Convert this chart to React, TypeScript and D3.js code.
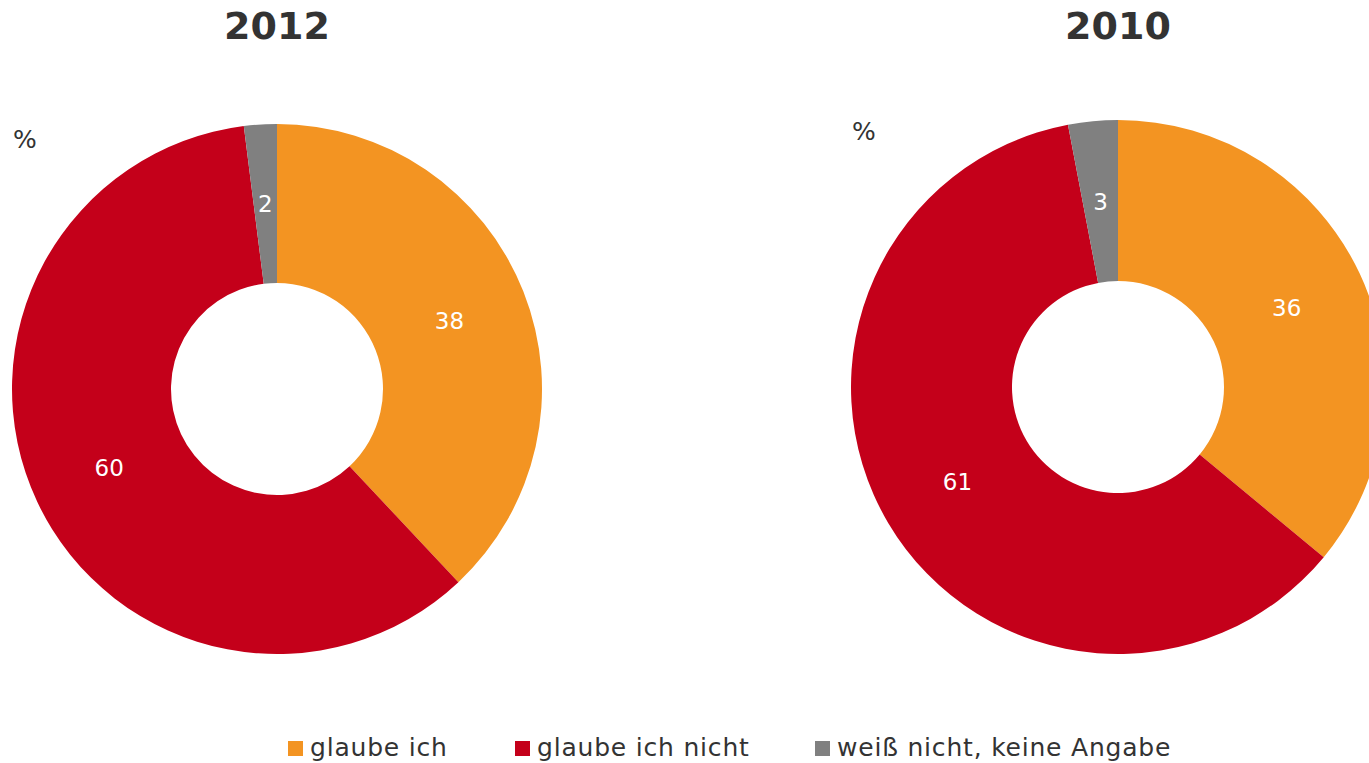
import React, { useEffect, useRef } from "react";
import * as d3 from "d3";

const categories = ["glaube ich", "glaube ich nicht", "weiß nicht, keine Angabe"];
const colors = ["#F39422", "#C4001A", "#808080"];
const years = ["2012", "2010"];
const values2012 = [38, 60, 2];
const values2010 = [36, 61, 3];

const W = 1369;
const H = 763;

export default function App() {
  const ref = useRef<SVGSVGElement>(null);
  useEffect(() => {
    const svg = d3.select(ref.current);
    svg.selectAll("*").remove();
    const font = "'DejaVu Sans', Verdana, sans-serif";
    const charts = [
      { year: years[0], values: values2012, cx: 277, cy: 389, r: 265, ri: 106, pctX: 13, pctY: 148 },
      { year: years[1], values: values2010, cx: 1118, cy: 387, r: 267, ri: 106, pctX: 852, pctY: 140 },
    ];
    const pie = d3.pie<number>().sort(null).value((d) => d);
    charts.forEach((c) => {
      const g = svg.append("g").attr("transform", `translate(${c.cx},${c.cy})`);
      const arc = d3.arc<d3.PieArcDatum<number>>().innerRadius(c.ri).outerRadius(c.r);
      const arcs = pie(c.values);
      g.selectAll("path")
        .data(arcs)
        .enter()
        .append("path")
        .attr("d", arc)
        .attr("fill", (_d, i) => colors[i]);
      g.selectAll("text.lbl")
        .data(arcs)
        .enter()
        .append("text")
        .attr("class", "lbl")
        .attr("transform", (d) => `translate(${arc.centroid(d)})`)
        .attr("text-anchor", "middle")
        .attr("dy", "0.36em")
        .attr("fill", "#ffffff")
        .attr("font-family", font)
        .attr("font-size", 23)
        .text((d) => String(d.data));
      svg
        .append("text")
        .attr("x", c.cx)
        .attr("y", 39)
        .attr("text-anchor", "middle")
        .attr("font-family", font)
        .attr("font-weight", "bold")
        .attr("font-size", 38)
        .attr("fill", "#333333")
        .text(c.year);
      svg
        .append("text")
        .attr("x", c.pctX)
        .attr("y", c.pctY)
        .attr("font-family", font)
        .attr("font-size", 25)
        .attr("fill", "#333333")
        .text("%");
    });
    const legendX = [288, 515, 815];
    const lg = svg.append("g");
    categories.forEach((cat, i) => {
      lg.append("rect")
        .attr("x", legendX[i])
        .attr("y", 741)
        .attr("width", 15)
        .attr("height", 15)
        .attr("fill", colors[i]);
      lg.append("text")
        .attr("x", legendX[i] + 22)
        .attr("y", 756)
        .attr("font-family", font)
        .attr("font-size", 25)
        .attr("letter-spacing", 0.8)
        .attr("fill", "#333333")
        .text(cat);
    });
  }, []);
  return (
    <svg
      ref={ref}
      width={W}
      height={H}
      style={{ position: "absolute", left: 0, top: 0, background: "#ffffff" }}
    />
  );
}
